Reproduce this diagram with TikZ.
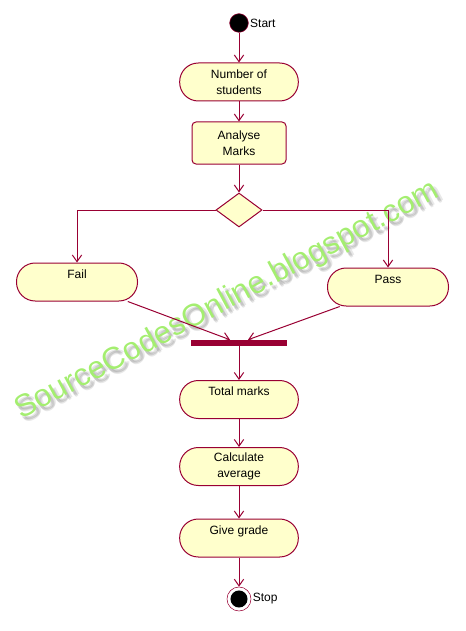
\documentclass[tikz,border=0pt]{standalone}
\usepackage{fontspec}
\setmainfont{Liberation Sans}
\usetikzlibrary{arrows.meta,shapes.geometric}

\definecolor{umlred}{RGB}{153,0,51}
\definecolor{umlfill}{RGB}{255,255,204}
\definecolor{markgreen}{RGB}{164,238,112}

\tikzset{
  flow/.style={draw=umlred, line width=0.75pt, -{Straight Barb[length=5pt,width=7pt]}},
  activity/.style={draw=umlred, fill=umlfill, line width=0.75pt, rounded corners=14pt,
    minimum width=89pt, minimum height=28.5pt, inner sep=0pt, align=center,
    font=\fontsize{9}{12}\selectfont},
  actionbox/.style={activity, rounded corners=3pt, minimum width=70.5pt, minimum height=31.5pt},
  decision/.style={draw=umlred, fill=umlfill, line width=0.75pt, diamond, aspect=1.35,
    minimum width=34.5pt, minimum height=25.5pt, inner sep=0pt},
  syncbar/.style={fill=umlred, minimum width=72pt, minimum height=4.5pt, inner sep=0pt},
  initial/.style={circle, draw=umlred, fill=black, minimum size=14pt, inner sep=0pt},
  final/.style={circle, draw=umlred, fill=white, minimum size=18pt, inner sep=0pt},
  note/.style={font=\fontsize{9}{12}\selectfont, inner sep=1pt},
  watermark/.style={anchor=base, rotate=28, font=\fontsize{23.5}{28}\selectfont}
}

\begin{document}
\begin{tikzpicture}[x=0.75pt,y=-0.75pt]
\useasboundingbox (0,0) rectangle (466,631);

% Wasserzeichen mit Schatten
\foreach \dx/\dy in {2/3,4/5,3/4,5/3}
  \node[watermark, text=black!50, opacity=0.18] at (231+\dx,308+\dy) {SourceCodesOnline.blogspot.com};
\node (mark) [watermark, text=markgreen] at (231,308) {SourceCodesOnline.blogspot.com};

% Knoten
\node (start) [initial, label={[note]right:Start}] at (239,23) {};
\node (num) [activity] at (239,82) {Number of\\students};
\node (marks) [actionbox] at (239,143) {Analyse\\Marks};
\node (dec) [decision] at (239,210) {};
\node (fail) [activity, minimum width=90.75pt] at (77,282) {Fail\\\mbox{}};
\node (pass) [activity, minimum width=90.75pt] at (388,287) {Pass\\\mbox{}};
\node (bar) [syncbar] at (239,343) {};
\node (total) [activity] at (239,399.5) {Total marks\\\mbox{}};
\node (avg) [activity] at (239,466.5) {Calculate\\average};
\node (grade) [activity] at (239,538) {Give grade\\\mbox{}};
\node (stop) [final, label={[note]right:Stop}] at (239,599) {};
\fill[black] (stop) circle (6.4pt);

% Pfeile
\draw[flow] (start) -- (num);
\draw[flow] (num) -- (marks);
\draw[flow] (marks) -- (dec);
\draw[flow] (dec.west) -| (fail);
\draw[flow] (dec.east) -| (pass);
\draw[flow] (fail.-21) -- ([xshift=-6.75pt]bar.north);
\draw[flow] (pass.-158) -- ([xshift=6.75pt]bar.north);
\draw[flow] (bar) -- (total);
\draw[flow] (total) -- (avg);
\draw[flow] (avg) -- (grade);
\draw[flow] (grade) -- (stop);

\end{tikzpicture}
\end{document}
